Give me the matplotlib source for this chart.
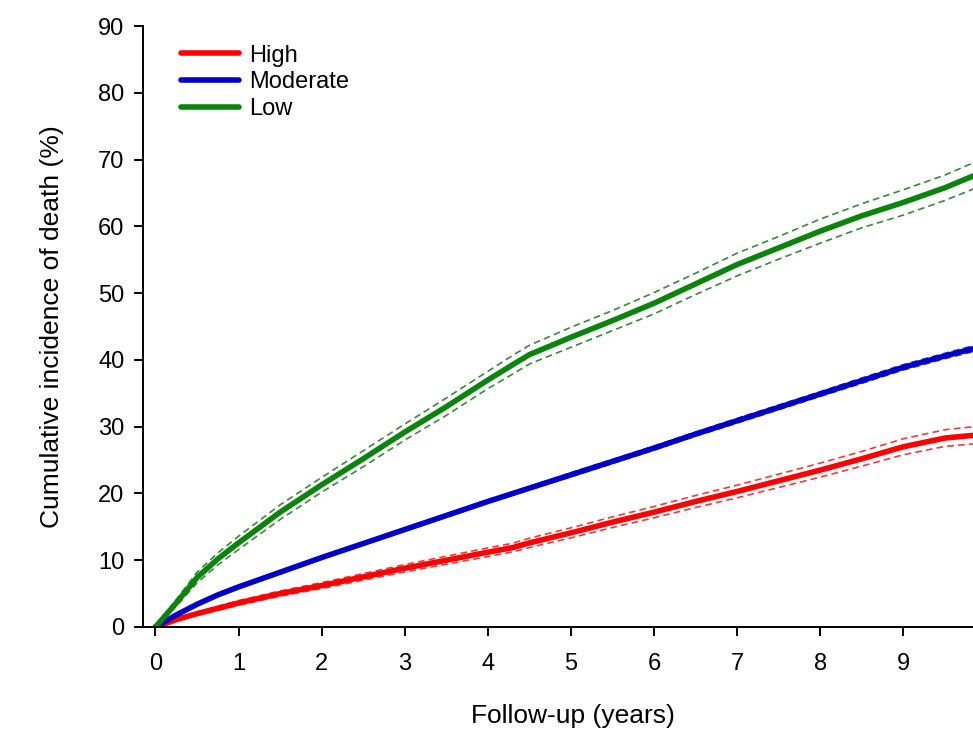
import numpy as np
import matplotlib.pyplot as plt

plt.rcParams['font.family'] = ['Liberation Sans', 'DejaVu Sans']

# follow-up time (years)
years = [0, 0.25, 0.5, 0.75, 1, 1.5, 2, 2.5, 3, 3.5, 4, 4.3, 4.5, 5, 5.5,
         6, 6.5, 7, 7.5, 8, 8.5, 9, 9.5, 10]

# cumulative incidence (%)
high = [0, 1.1, 2.0, 2.8, 3.6, 5.0, 6.2, 7.5, 8.8, 10.0, 11.2, 11.9, 12.6, 14.1, 15.7,
        17.2, 18.8, 20.3, 21.9, 23.5, 25.2, 27.0, 28.3, 28.9]
moderate = [0, 1.8, 3.4, 4.8, 6.0, 8.2, 10.4, 12.5, 14.6, 16.7, 18.8, 20.0, 20.8, 22.8, 24.8,
            26.8, 28.9, 30.9, 32.9, 34.9, 36.9, 38.9, 40.6, 42.2]
low = [0, 3.6, 7.4, 10.2, 12.6, 17.2, 21.3, 25.2, 29.2, 33.0, 37.0, 39.3, 40.8, 43.4, 45.9,
       48.5, 51.4, 54.3, 56.8, 59.3, 61.6, 63.6, 65.8, 68.4]

# half-width of the 95% confidence band
high_ci = [0, 0.15, 0.25, 0.3, 0.35, 0.4, 0.45, 0.5, 0.55, 0.6, 0.65, 0.65, 0.7, 0.75, 0.8,
           0.85, 0.9, 0.95, 1.0, 1.05, 1.1, 1.2, 1.25, 1.3]
moderate_ci = [0, 0.1, 0.15, 0.15, 0.2, 0.2, 0.2, 0.2, 0.25, 0.25, 0.25, 0.25, 0.25, 0.3, 0.3,
               0.3, 0.3, 0.35, 0.35, 0.35, 0.4, 0.4, 0.4, 0.45]
low_ci = [0, 0.5, 0.8, 0.9, 1.0, 1.1, 1.1, 1.2, 1.2, 1.3, 1.3, 1.4, 1.4, 1.5, 1.5,
          1.6, 1.6, 1.7, 1.7, 1.8, 1.8, 1.9, 1.9, 2.0]

groups = [('High', high, high_ci, '#ff0000', '#f03c3c'),
          ('Moderate', moderate, moderate_ci, '#0000c8', '#3030d0'),
          ('Low', low, low_ci, '#0a840a', '#3a8a3a')]

fig = plt.figure(figsize=(9.73, 7.39), dpi=100)
ax = fig.add_axes([0.147, 0.1516, 0.884, 0.813])

x = np.array(years)
for name, vals, ci, col, ci_col in groups:
    v = np.array(vals)
    c = np.array(ci)
    ax.plot(x, v + c, color=ci_col, lw=1.2, ls=(0, (4, 2.5)))
    ax.plot(x, v - c, color=ci_col, lw=1.2, ls=(0, (4, 2.5)))
    ax.plot(x, v, color=col, lw=4, label=name, solid_capstyle='round')

ax.set_xlim(-0.15, 10.2)
ax.set_ylim(0, 90)
ax.set_xticks(range(0, 10))
ax.set_yticks(range(0, 91, 10))
ax.spines['top'].set_visible(False)
ax.spines['right'].set_visible(False)
for s in ('left', 'bottom'):
    ax.spines[s].set_linewidth(1.4)
ax.tick_params(direction='out', length=6.5, width=1.4, labelsize=17, pad=7)
ax.tick_params(axis='x', pad=12)

ax.set_xlabel('Follow-up (years)', fontsize=19)
ax.set_ylabel('Cumulative incidence of death (%)', fontsize=19)
ax.xaxis.set_label_coords(0.5, -0.128)
ax.yaxis.set_label_coords(-0.092, 0.5)

leg = ax.legend(loc='upper left', frameon=False, fontsize=17, handlelength=2.45,
                handletextpad=0.45, labelspacing=0.2, borderaxespad=0.0,
                bbox_to_anchor=(0.033, 0.985))
for line in leg.get_lines():
    line.set_linewidth(4)

fig.savefig('out.png', dpi=100)
